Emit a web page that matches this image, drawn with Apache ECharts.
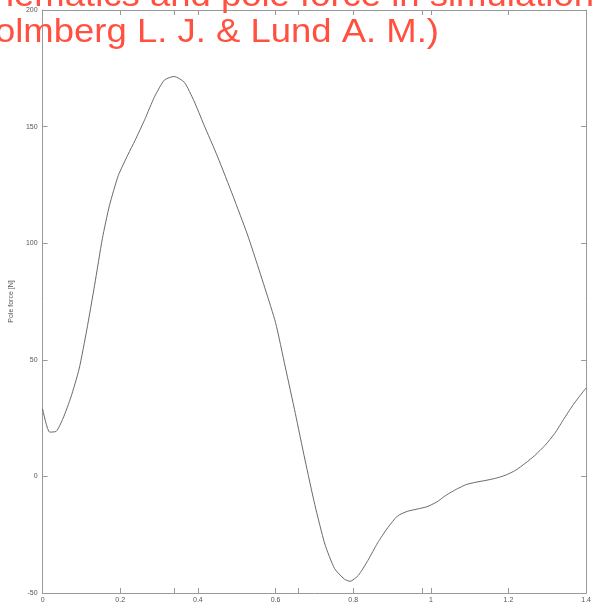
<!DOCTYPE html>
<html>
<head>
<meta charset="utf-8">
<script src="https://cdn.jsdelivr.net/npm/echarts@6/dist/echarts.min.js"></script>
<style>
html,body{margin:0;padding:0;background:#fff;}
#chart{width:594px;height:612px;}
</style>
</head>
<body>
<div id="chart"></div>
<script>
// Data
const timeS = [0, 0.018, 0.035, 0.053, 0.073, 0.094, 0.114, 0.134, 0.154, 0.172, 0.195, 0.22, 0.238, 0.263, 0.289, 0.314, 0.339, 0.365, 0.39, 0.415, 0.451, 0.491, 0.527, 0.547, 0.575, 0.6, 0.625, 0.651, 0.676, 0.701, 0.727, 0.752, 0.777, 0.792, 0.813, 0.838, 0.863, 0.889, 0.914, 0.939, 0.965, 0.99, 1.015, 1.04, 1.066, 1.091, 1.116, 1.142, 1.167, 1.192, 1.218, 1.243, 1.268, 1.294, 1.319, 1.344, 1.37, 1.4];
const poleForce = [29, 19, 19.3, 25, 34, 46, 63, 82, 102, 116, 129, 138, 144, 153, 163, 170, 171.5, 169, 161, 151, 137, 120, 104, 94, 79.5, 66, 47, 27, 7, -12, -29, -39.5, -44, -45, -42.5, -36, -28.5, -22, -17, -15, -14, -13, -11, -8, -5.5, -3.5, -2.5, -1.7, -0.8, 0.5, 2.6, 5.6, 9, 13.3, 18.4, 25, 31.5, 38];
const xTickLabels = [0, 0.2, 0.4, 0.6, 0.8, 1, 1.2, 1.4];
const xTickMarks = [0, 0.2, 0.339, 0.4, 0.6, 0.658, 0.8, 0.977, 1, 1.2, 1.4];
const titleLine1 = 'Kinematics and pole force in simulation';
const titleLine2 = '(Holmberg L. J. & Lund A. M.)';
const yName = 'Pole force [N]';

const axisGray = '#999999';
const labelGray = '#555555';
const FONT = '"Liberation Sans", Arial, sans-serif';

const chart = echarts.init(document.getElementById('chart'));
const xBase = {
  type: 'value', min: 0, max: 1.4,
  axisLine: {show: true, onZero: false, lineStyle: {color: axisGray, width: 1}},
  splitLine: {show: false},
  axisTick: {show: true, inside: true, length: 5, customValues: xTickMarks, lineStyle: {color: axisGray}},
};
const yBase = {
  type: 'value', min: -50, max: 200, interval: 50,
  axisLine: {show: true, onZero: false, lineStyle: {color: axisGray, width: 1}},
  splitLine: {show: false},
  axisTick: {show: true, inside: true, length: 5, lineStyle: {color: axisGray}},
};
chart.setOption({
  animation: false,
  backgroundColor: '#ffffff',
  grid: {left: 39, right: 2, top: 10, bottom: 19, containLabel: false},
  xAxis: [
    Object.assign({}, xBase, {
      position: 'bottom',
      axisLabel: {show: true, customValues: xTickLabels, fontSize: 7, color: labelGray, fontFamily: FONT, margin: 4,
        formatter: v => String(v)}
    }),
    Object.assign({}, xBase, {position: 'top', axisLabel: {show: false}})
  ],
  yAxis: [
    Object.assign({}, yBase, {
      position: 'left',
      name: yName, nameLocation: 'middle', nameGap: 21,
      nameTextStyle: {fontSize: 7, color: labelGray, fontFamily: FONT},
      axisLabel: {show: true, fontSize: 7, color: labelGray, fontFamily: FONT, margin: 5}
    }),
    Object.assign({}, yBase, {position: 'right', axisLabel: {show: false}})
  ],
  series: [{
    type: 'line',
    data: timeS.map((t, i) => [t, poleForce[i]]),
    showSymbol: false,
    smooth: 0.2,
    lineStyle: {color: '#6a6a6a', width: 1},
    z: 3
  }],
  graphic: [
    {type: 'text', x: 594, y: -3, scaleX: 1.14, scaleY: 1.04, z: 100,
     style: {text: titleLine1, fill: '#ff5040', font: '32px ' + FONT, textAlign: 'right', textVerticalAlign: 'middle'}},
    {type: 'text', x: 439, y: 33, scaleX: 1.14, scaleY: 1.04, z: 100,
     style: {text: titleLine2, fill: '#ff5040', font: '32px ' + FONT, textAlign: 'right', textVerticalAlign: 'middle'}}
  ]
});
</script>
</body>
</html>
